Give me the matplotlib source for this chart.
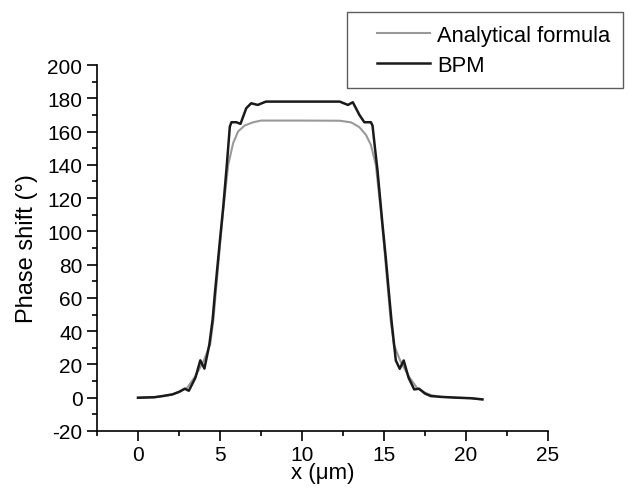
import matplotlib
matplotlib.use("Agg")
import matplotlib.pyplot as plt
from matplotlib.ticker import MultipleLocator
from matplotlib.legend_handler import HandlerLine2D

# BPM simulation (black)
bpm_x = [0, 1.0, 1.5, 2.1, 2.5, 2.85, 3.1, 3.5, 3.8, 4.05, 4.35, 4.55, 4.7, 5.0, 5.2,
         5.4, 5.6, 5.7, 6.0, 6.25, 6.6, 6.9, 7.3, 7.8, 10.0, 12.3, 12.8, 13.1, 13.5,
         13.8, 14.2, 14.3, 14.45, 14.6, 14.9, 15.1, 15.3, 15.45, 15.72, 15.96, 16.2,
         16.5, 16.84, 17.14, 17.5, 17.85, 18.5, 19.5, 20.3, 21.0]
bpm_y = [0, 0.3, 1, 2, 3.5, 5.4, 4.2, 12, 22.5, 17.5, 32, 47, 64, 95, 115,
         138, 163, 165.6, 165.6, 164.6, 174, 177, 176, 178, 178, 178, 176, 177.6, 170,
         165.6, 165.6, 163.6, 150, 137, 105, 85, 63, 47, 22.4, 17.4, 22.4,
         12, 5, 5.4, 2.5, 1, 0.5, 0, -0.3, -1]

# Analytical formula (gray)
ana_x = [0, 1.0, 1.5, 2.1, 2.5, 3.0, 3.5, 4.0, 4.4, 4.6, 4.75, 5.0, 5.2, 5.5, 5.8,
         6.1, 6.5, 7.0, 7.5, 10.0, 12.3, 13.0, 13.5, 13.9, 14.2, 14.5, 14.8, 15.0,
         15.25, 15.4, 15.6, 16.0, 16.5, 17.0, 17.5, 17.9, 18.5, 19.5, 20.3, 21.0]
ana_y = [0, 0.3, 1, 2, 3.5, 6, 13, 22, 32, 47, 64, 92, 113, 140, 153,
         160, 163.6, 165.5, 166.6, 166.6, 166.5, 165.5, 162.6, 158, 152, 140, 113, 92,
         64, 47, 32, 22, 13, 6, 3, 1.5, 0.5, 0, -0.3, -1]

plt.rcParams['font.family'] = ['Liberation Sans', 'DejaVu Sans']
plt.rcParams['axes.unicode_minus'] = False


class ShortLine(HandlerLine2D):
    # draw the legend line only in the right part of the handle box
    def create_artists(self, legend, orig_handle, xdescent, ydescent,
                       width, height, fontsize, trans):
        arts = super().create_artists(legend, orig_handle, xdescent, ydescent,
                                      width, height, fontsize, trans)
        line = arts[0]
        xd = list(line.get_xdata())
        yd = list(line.get_ydata())
        line.set_data([xd[-1] - 38, xd[-1]], [yd[0], yd[0]])
        return arts


fig = plt.figure(figsize=(6.28, 4.89), dpi=100)
ax = fig.add_axes([97 / 628, 1 - 432 / 489, (548 - 97) / 628, (432 - 66) / 489])

l1, = ax.plot(ana_x, ana_y, color='#999999', linewidth=1.5, label='Analytical formula')
l2, = ax.plot(bpm_x, bpm_y, color='#1a1a1a', linewidth=1.8, label='BPM')

ax.set_xlim(-2.5, 25)
ax.set_ylim(-20, 200)
ax.xaxis.set_major_locator(MultipleLocator(5))
ax.xaxis.set_minor_locator(MultipleLocator(2.5))
ax.yaxis.set_major_locator(MultipleLocator(20))
ax.yaxis.set_minor_locator(MultipleLocator(10))
ax.tick_params(which='major', direction='out', length=7, width=1.2, labelsize=15, pad=3.5)
ax.tick_params(axis='x', which='major', pad=3)
ax.tick_params(which='minor', direction='out', length=3.5, width=1.2)

ax.spines['top'].set_visible(False)
ax.spines['right'].set_visible(False)
ax.spines['left'].set_linewidth(1.2)
ax.spines['bottom'].set_linewidth(1.2)

ax.set_xlabel('x (\u03bcm)', fontsize=16, labelpad=-1)
ax.set_ylabel('Phase shift (\u00b0)', fontsize=17, labelpad=7)

leg = fig.legend(handles=[l1, l2], loc='upper left',
                 bbox_to_anchor=(347 / 628, 1 - 13 / 489),
                 bbox_transform=fig.transFigure,
                 handler_map={l1: ShortLine(), l2: ShortLine()},
                 fontsize=15.8, frameon=True, fancybox=False,
                 edgecolor='#333333', handlelength=3.2, handletextpad=0.33,
                 labelspacing=0.4, borderpad=0.58, borderaxespad=0)
leg.get_frame().set_linewidth(1.0)

fig.savefig('out.png', dpi=100)
